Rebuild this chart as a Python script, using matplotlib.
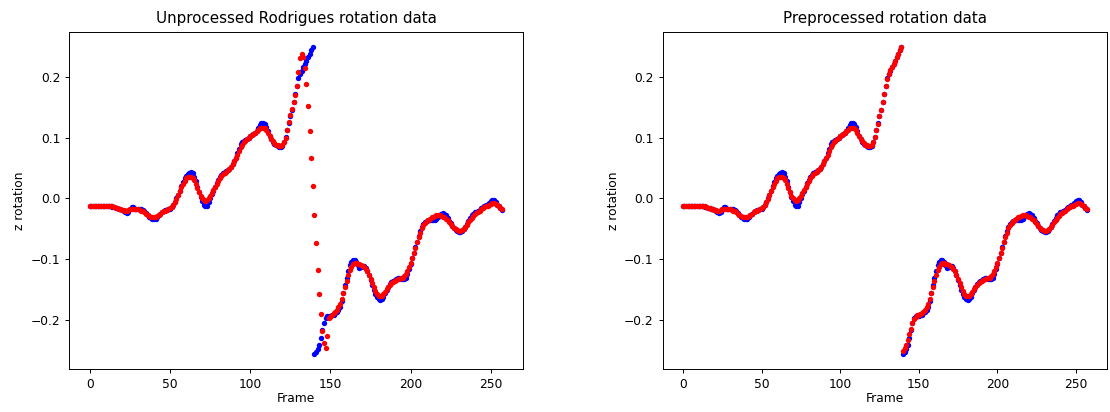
import numpy as np
import matplotlib
matplotlib.use("Agg")
import matplotlib.pyplot as plt

plt.rcParams.update({
    "font.family": "DejaVu Sans",
    "font.size": 8.8,
    "axes.titlesize": 10.9,
    "axes.labelsize": 8.8,
    "axes.linewidth": 0.7,
    "xtick.major.size": 3,
    "ytick.major.size": 3,
    "xtick.major.width": 0.7,
    "ytick.major.width": 0.7,
})

# z component of the Rodrigues vector, one value per frame (0..257)
raw_z = [
    -0.012, -0.012, -0.012, -0.012, -0.012, -0.012, -0.013, -0.013, -0.013, -0.013,
    -0.013, -0.013, -0.013, -0.013, -0.014, -0.014, -0.015, -0.016, -0.017, -0.018,
    -0.019, -0.021, -0.023, -0.024, -0.023, -0.018, -0.014, -0.014, -0.017, -0.018,
    -0.018, -0.018, -0.018, -0.019, -0.021, -0.024, -0.027, -0.030, -0.032, -0.033,
    -0.034, -0.033, -0.031, -0.028, -0.025, -0.022, -0.020, -0.019, -0.019, -0.018,
    -0.017, -0.014, -0.011, -0.006, 0.000, 0.006, 0.013, 0.020, 0.027, 0.033,
    0.037, 0.040, 0.042, 0.043, 0.041, 0.036, 0.028, 0.019, 0.010, 0.002,
    -0.005, -0.010, -0.013, -0.012, -0.006, 0.001, 0.007, 0.013, 0.019, 0.025,
    0.031, 0.036, 0.039, 0.041, 0.043, 0.045, 0.047, 0.049, 0.052, 0.056,
    0.061, 0.067, 0.074, 0.082, 0.089, 0.093, 0.095, 0.096, 0.098, 0.100,
    0.102, 0.104, 0.106, 0.108, 0.111, 0.116, 0.121, 0.124, 0.124, 0.122,
    0.117, 0.110, 0.103, 0.097, 0.092, 0.089, 0.087, 0.086, 0.085, 0.085,
    0.086, 0.092, 0.101, 0.112, 0.124, 0.135, 0.146, 0.158, 0.171, 0.185,
    0.198, 0.205, 0.210, 0.216, 0.221, 0.226, 0.232, 0.238, 0.244, 0.249,
    -0.255, -0.252, -0.247, -0.240, -0.229, -0.216, -0.204, -0.196, -0.193, -0.193,
    -0.193, -0.192, -0.191, -0.189, -0.187, -0.184, -0.178, -0.168, -0.156, -0.143,
    -0.130, -0.119, -0.110, -0.104, -0.101, -0.101, -0.105, -0.110, -0.114, -0.113,
    -0.111, -0.111, -0.114, -0.119, -0.126, -0.134, -0.142, -0.150, -0.157, -0.162,
    -0.165, -0.167, -0.166, -0.162, -0.156, -0.150, -0.145, -0.141, -0.138, -0.136,
    -0.134, -0.132, -0.131, -0.131, -0.132, -0.133, -0.133, -0.130, -0.124, -0.116,
    -0.107, -0.098, -0.089, -0.080, -0.071, -0.062, -0.054, -0.047, -0.042, -0.039,
    -0.037, -0.036, -0.036, -0.035, -0.035, -0.035, -0.033, -0.030, -0.027, -0.025,
    -0.024, -0.025, -0.028, -0.032, -0.037, -0.041, -0.045, -0.049, -0.052, -0.054,
    -0.055, -0.055, -0.054, -0.051, -0.047, -0.042, -0.037, -0.032, -0.028, -0.025,
    -0.023, -0.022, -0.021, -0.019, -0.016, -0.014, -0.012, -0.011, -0.010, -0.008,
    -0.005, -0.003, -0.003, -0.006, -0.010, -0.013, -0.016, -0.019,
]

# smoothed directly on the raw data (filter runs across the sign flip)
smooth_raw_z = [
    -0.012, -0.012, -0.012, -0.012, -0.012, -0.012, -0.012, -0.013, -0.013, -0.013,
    -0.013, -0.013, -0.013, -0.013, -0.013, -0.014, -0.015, -0.016, -0.017, -0.018,
    -0.019, -0.019, -0.020, -0.020, -0.019, -0.018, -0.017, -0.017, -0.017, -0.018,
    -0.018, -0.019, -0.020, -0.021, -0.023, -0.025, -0.027, -0.029, -0.030, -0.031,
    -0.031, -0.030, -0.029, -0.027, -0.025, -0.023, -0.021, -0.020, -0.019, -0.018,
    -0.016, -0.014, -0.011, -0.006, -0.001, 0.005, 0.012, 0.018, 0.024, 0.029,
    0.033, 0.035, 0.036, 0.036, 0.034, 0.030, 0.024, 0.017, 0.010, 0.004,
    0.000, -0.003, -0.004, -0.003, 0.000, 0.004, 0.009, 0.014, 0.019, 0.024,
    0.029, 0.033, 0.037, 0.040, 0.042, 0.044, 0.046, 0.049, 0.052, 0.056,
    0.061, 0.066, 0.072, 0.078, 0.084, 0.088, 0.092, 0.095, 0.098, 0.100,
    0.102, 0.104, 0.106, 0.108, 0.110, 0.113, 0.115, 0.116, 0.116, 0.115,
    0.112, 0.108, 0.103, 0.098, 0.094, 0.091, 0.088, 0.087, 0.086, 0.086,
    0.087, 0.092, 0.100, 0.112, 0.125, 0.137, 0.147, 0.158, 0.170, 0.184,
    0.207, 0.231, 0.237, 0.233, 0.214, 0.188, 0.152, 0.111, 0.066, 0.020,
    -0.027, -0.074, -0.117, -0.157, -0.190, -0.217, -0.238, -0.245, -0.226, -0.196,
    -0.194, -0.192, -0.189, -0.186, -0.183, -0.179, -0.173, -0.165, -0.156, -0.146,
    -0.136, -0.126, -0.118, -0.112, -0.108, -0.106, -0.106, -0.107, -0.108, -0.110,
    -0.111, -0.113, -0.116, -0.120, -0.126, -0.132, -0.139, -0.146, -0.152, -0.157,
    -0.160, -0.161, -0.160, -0.157, -0.153, -0.149, -0.145, -0.142, -0.139, -0.137,
    -0.135, -0.134, -0.133, -0.132, -0.131, -0.130, -0.128, -0.124, -0.119, -0.113,
    -0.106, -0.098, -0.090, -0.081, -0.072, -0.064, -0.056, -0.049, -0.044, -0.040,
    -0.037, -0.035, -0.033, -0.031, -0.030, -0.029, -0.028, -0.028, -0.028, -0.029,
    -0.030, -0.031, -0.033, -0.036, -0.039, -0.042, -0.045, -0.048, -0.050, -0.052,
    -0.053, -0.053, -0.052, -0.050, -0.047, -0.043, -0.039, -0.035, -0.032, -0.029,
    -0.026, -0.024, -0.022, -0.020, -0.018, -0.016, -0.014, -0.013, -0.012, -0.010,
    -0.009, -0.008, -0.008, -0.009, -0.011, -0.013, -0.015, -0.017,
]

# smoothed after preprocessing (no smoothing across the flip at frame 140)
smooth_prep_z = [
    -0.012, -0.012, -0.012, -0.012, -0.012, -0.012, -0.012, -0.013, -0.013, -0.013,
    -0.013, -0.013, -0.013, -0.013, -0.013, -0.014, -0.015, -0.016, -0.017, -0.018,
    -0.019, -0.019, -0.020, -0.020, -0.019, -0.018, -0.017, -0.017, -0.017, -0.018,
    -0.018, -0.019, -0.020, -0.021, -0.023, -0.025, -0.027, -0.029, -0.030, -0.031,
    -0.031, -0.030, -0.029, -0.027, -0.025, -0.023, -0.021, -0.020, -0.019, -0.018,
    -0.016, -0.014, -0.011, -0.006, -0.001, 0.005, 0.012, 0.018, 0.024, 0.029,
    0.033, 0.035, 0.036, 0.036, 0.034, 0.030, 0.024, 0.017, 0.010, 0.004,
    0.000, -0.003, -0.004, -0.003, 0.000, 0.004, 0.009, 0.014, 0.019, 0.024,
    0.029, 0.033, 0.037, 0.040, 0.042, 0.044, 0.046, 0.049, 0.052, 0.056,
    0.061, 0.066, 0.072, 0.078, 0.084, 0.088, 0.092, 0.095, 0.098, 0.100,
    0.102, 0.104, 0.106, 0.108, 0.110, 0.113, 0.115, 0.116, 0.116, 0.115,
    0.112, 0.108, 0.103, 0.098, 0.094, 0.091, 0.088, 0.087, 0.086, 0.086,
    0.087, 0.093, 0.101, 0.112, 0.123, 0.135, 0.146, 0.158, 0.171, 0.184,
    0.196, 0.205, 0.211, 0.216, 0.221, 0.226, 0.232, 0.238, 0.244, 0.248,
    -0.250, -0.246, -0.240, -0.232, -0.223, -0.214, -0.205, -0.198, -0.194, -0.192,
    -0.191, -0.190, -0.188, -0.186, -0.183, -0.179, -0.173, -0.165, -0.156, -0.146,
    -0.136, -0.126, -0.118, -0.112, -0.108, -0.106, -0.106, -0.107, -0.108, -0.110,
    -0.111, -0.113, -0.116, -0.120, -0.126, -0.132, -0.139, -0.146, -0.152, -0.157,
    -0.160, -0.161, -0.160, -0.157, -0.153, -0.149, -0.145, -0.142, -0.139, -0.137,
    -0.135, -0.134, -0.133, -0.132, -0.131, -0.130, -0.128, -0.124, -0.119, -0.113,
    -0.106, -0.098, -0.090, -0.081, -0.072, -0.064, -0.056, -0.049, -0.044, -0.040,
    -0.037, -0.035, -0.033, -0.031, -0.030, -0.029, -0.028, -0.028, -0.028, -0.029,
    -0.030, -0.031, -0.033, -0.036, -0.039, -0.042, -0.045, -0.048, -0.050, -0.052,
    -0.053, -0.053, -0.052, -0.050, -0.047, -0.043, -0.039, -0.035, -0.032, -0.029,
    -0.026, -0.024, -0.022, -0.020, -0.018, -0.016, -0.014, -0.013, -0.012, -0.010,
    -0.009, -0.008, -0.008, -0.009, -0.011, -0.013, -0.015, -0.017,
]

frames = np.arange(len(raw_z))


def draw_panel(ax, raw, smooth, title):
    ax.scatter(frames, raw, s=15, color="blue", linewidths=0)
    ax.scatter(frames, smooth, s=15, color="red", linewidths=0)
    ax.set_title(title)
    ax.set_xlabel("Frame", labelpad=1)
    ax.set_ylabel("z rotation", labelpad=3)
    ax.set_xticks([0, 50, 100, 150, 200, 250])
    ax.set_yticks([-0.2, -0.1, 0.0, 0.1, 0.2])


fig = plt.figure(figsize=(11.1, 4.12), dpi=100)
ax1 = fig.add_axes([0.0624, 0.1044, 0.4085, 0.8191])
ax2 = fig.add_axes([0.597, 0.1044, 0.4005, 0.8191])

draw_panel(ax1, raw_z, smooth_raw_z, "Unprocessed Rodrigues rotation data")
draw_panel(ax2, raw_z, smooth_prep_z, "Preprocessed rotation data")

fig.savefig("out.png", dpi=100)
